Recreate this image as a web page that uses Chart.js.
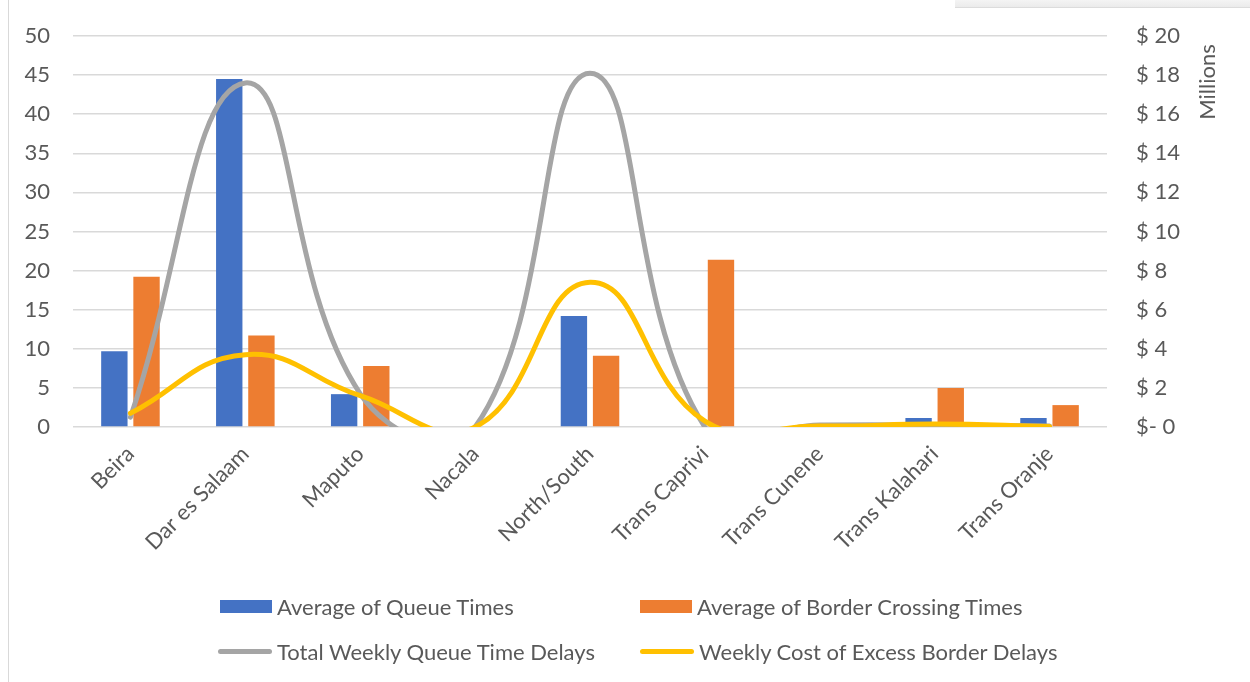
<!DOCTYPE html>
<html>
<head>
<meta charset="utf-8">
<script src="https://cdn.jsdelivr.net/npm/chart.js@4.4.1/dist/chart.umd.min.js"></script>
<style>
  html, body { margin: 0; padding: 0; background: #fff; }
  #wrap { position: relative; width: 1250px; height: 682px; overflow: hidden; font-family: Lato, "Liberation Sans", sans-serif; }
  #frame { position: absolute; left: 8px; top: -2px; width: 1260px; height: 700px; border-left: 1px solid #d9d9d9; }
  #topbar { position: absolute; left: 955px; top: 0; width: 300px; height: 7px; background: linear-gradient(#f4f4f4, #ebebeb); border-bottom: 1px solid #dcdcdc; }
  canvas { position: absolute; left: 0; top: 0; }
  #legend { position: absolute; left: 0; top: 0; width: 1250px; height: 682px; pointer-events: none; }
  .item { position: absolute; display: flex; align-items: center; font-size: 22px; color: #595959; white-space: nowrap; }
  .box { width: 52px; height: 13px; margin-right: 5px; }
  .line { width: 54px; height: 5px; border-radius: 3px; margin-right: 5px; }
</style>
</head>
<body>
<div id="wrap">
  <div id="frame"></div>
  <div id="topbar"></div>
  <canvas id="c" width="1250" height="682"></canvas>
  <div id="legend"></div>
</div>
<script>
// Border corridors
const categories = ['Beira', 'Dar es Salaam', 'Maputo', 'Nacala', 'North/South', 'Trans Caprivi', 'Trans Cunene', 'Trans Kalahari', 'Trans Oranje'];

// Hours (left axis)
const queueTimes = [9.7, 44.5, 4.2, 0, 14.2, 0, 0, 1.15, 1.15];
const borderCrossingTimes = [19.2, 11.7, 7.8, 0, 9.1, 21.4, 0, 5.0, 2.8];

// US$ millions (right axis)
const weeklyQueueDelays = [0.5, 17.6, 1.7, 0, 18.1, 0, 0.1, 0.1, 0.05];
const weeklyExcessCost = [0.7, 3.7, 1.6, 0, 7.4, 0.3, 0.05, 0.15, 0.02];

const leftTicks = [0, 5, 10, 15, 20, 25, 30, 35, 40, 45, 50];
const rightTicks = [0, 2, 4, 6, 8, 10, 12, 14, 16, 18, 20];
const rightTickLabel = v => (v === 0 ? '$- 0' : '$ ' + v);

const FONT = 'Lato, "Liberation Sans", sans-serif';
const TEXT = '#595959';
const FS = 22;

const axisTitle = {
  id: 'axisTitle',
  afterDraw(chart) {
    const ctx = chart.ctx;
    ctx.save();
    ctx.translate(1208, 82);
    ctx.rotate(-Math.PI / 2);
    ctx.font = FS + 'px ' + FONT;
    ctx.fillStyle = TEXT;
    ctx.textAlign = 'center';
    ctx.textBaseline = 'middle';
    ctx.fillText('Millions', 0, 0);
    ctx.restore();
  }
};

const lineStyle = {
  type: 'line',
  yAxisID: 'y1',
  borderWidth: 5,
  pointRadius: 0,
  pointHoverRadius: 0,
  tension: 0.45,
  capBezierPoints: false,
  borderCapStyle: 'round',
  borderJoinStyle: 'round',
  fill: false
};

// Keep the value axes from reserving extra room above the plot
function fixedWidth(w) {
  return s => { s.width = w; s.paddingTop = 0; s.paddingBottom = 0; };
}

const chart = new Chart(document.getElementById('c'), {
  data: {
    labels: categories,
    datasets: [
      { type: 'bar', label: 'Average of Queue Times', data: queueTimes, backgroundColor: '#4472C4', yAxisID: 'y', order: 3 },
      { type: 'bar', label: 'Average of Border Crossing Times', data: borderCrossingTimes, backgroundColor: '#ED7D31', yAxisID: 'y', order: 3 },
      Object.assign({ label: 'Total Weekly Queue Time Delays', data: weeklyQueueDelays, borderColor: '#A5A5A5', backgroundColor: '#A5A5A5', order: 2 }, lineStyle),
      Object.assign({ label: 'Weekly Cost of Excess Border Delays', data: weeklyExcessCost, borderColor: '#FFC000', backgroundColor: '#FFC000', order: 1 }, lineStyle)
    ]
  },
  options: {
    responsive: false,
    animation: false,
    layout: { padding: { top: 36, left: 0, right: 0, bottom: 0 } },
    datasets: { bar: { categoryPercentage: 0.56, barPercentage: 0.82 } },
    plugins: { legend: { display: false }, tooltip: { enabled: false } },
    scales: {
      x: {
        grid: { display: false, drawTicks: false },
        border: { display: false },
        ticks: { minRotation: 45, maxRotation: 45, autoSkip: false, color: TEXT, font: { family: FONT, size: FS }, padding: 14 },
        afterFit(s) { s.height = 255; }
      },
      y: {
        position: 'left',
        min: 0, max: 50,
        afterBuildTicks(s) { s.ticks = leftTicks.map(v => ({ value: v })); },
        grid: { color: '#d9d9d9', lineWidth: 1.5, drawTicks: false },
        border: { display: false },
        ticks: { color: TEXT, font: { family: FONT, size: FS }, padding: 23 },
        afterFit: fixedWidth(73)
      },
      y1: {
        position: 'right',
        min: 0, max: 20,
        afterBuildTicks(s) { s.ticks = rightTicks.map(v => ({ value: v })); },
        grid: { display: false, drawTicks: false },
        border: { display: false },
        ticks: { color: TEXT, font: { family: FONT, size: FS }, padding: 29, callback: v => rightTickLabel(v) },
        afterFit: fixedWidth(1250 - 1107)
      }
    }
  },
  plugins: [axisTitle]
});

// Legend in a two-column grid, built from the chart's datasets
const legendPos = [[220, 607], [640, 607], [218, 652], [640, 652]];
const legend = document.getElementById('legend');
chart.data.datasets.forEach((ds, i) => {
  const el = document.createElement('div');
  el.className = 'item';
  const sw = document.createElement('span');
  sw.className = ds.type === 'bar' ? 'box' : 'line';
  sw.style.background = ds.type === 'bar' ? ds.backgroundColor : ds.borderColor;
  el.appendChild(sw);
  el.appendChild(document.createTextNode(ds.label));
  el.style.left = legendPos[i][0] + 'px';
  el.style.top = (legendPos[i][1] - 14) + 'px';
  legend.appendChild(el);
});
</script>
</body>
</html>
